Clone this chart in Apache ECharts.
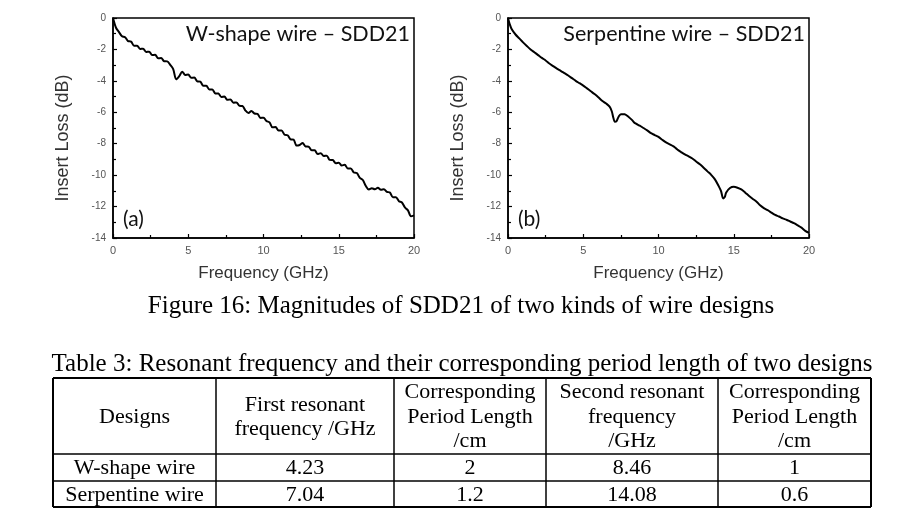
<!DOCTYPE html>
<html>
<head>
<meta charset="utf-8">
<script src="https://cdn.jsdelivr.net/npm/echarts@6/dist/echarts.min.js"></script>
<style>
html,body{margin:0;padding:0;background:#fff;}
#main{width:917px;height:520px;}
</style>
</head>
<body>
<div id="main"></div>
<script>
// ---------- DATA ----------
var freqA = [0,0.2,0.4,0.6,0.8,1.0,1.2,1.4,1.6,1.8,2.0,2.2,2.4,2.6,2.8,3.0,3.2,3.4,3.6,3.8,
  4.0,4.2,4.4,4.6,4.8,5.0,5.2,5.4,5.6,5.8,6.0,6.2,6.4,6.6,6.8,7.0,7.2,7.4,7.6,7.8,
  8.0,8.2,8.4,8.6,8.8,9.0,9.2,9.4,9.6,9.8,10.0,10.2,10.4,10.6,10.8,11.0,11.2,11.4,11.6,11.8,
  12.0,12.2,12.4,12.6,12.8,13.0,13.2,13.4,13.6,13.8,14.0,14.2,14.4,14.6,14.8,15.0,15.2,15.4,15.6,15.8,
  16.0,16.2,16.4,16.6,16.8,17.0,17.2,17.4,17.6,17.8,18.0,18.2,18.4,18.6,18.8,19.0,19.2,19.4,19.6,19.8,20.0];
var lossA = [0,-0.62,-0.90,-1.16,-1.22,-1.47,-1.50,-1.76,-1.76,-1.97,-1.95,-2.16,-2.14,-2.36,-2.34,-2.56,-2.55,-2.75,-2.76,-2.98,
  -3.25,-3.90,-3.70,-3.42,-3.62,-3.60,-3.81,-3.79,-4.03,-4.05,-4.31,-4.31,-4.55,-4.55,-4.80,-4.81,-5.02,-4.99,-5.21,-5.18,
  -5.39,-5.37,-5.59,-5.60,-5.89,-6.05,-5.92,-6.08,-6.10,-6.36,-6.34,-6.56,-6.64,-6.96,-6.94,-7.16,-7.16,-7.43,-7.46,-7.72,
  -7.74,-8.12,-8.08,-7.96,-8.18,-8.19,-8.42,-8.42,-8.66,-8.60,-8.78,-8.76,-9.03,-9.04,-9.24,-9.21,-9.39,-9.34,-9.58,-9.58,
  -9.83,-9.86,-10.18,-10.31,-10.69,-10.92,-10.83,-10.90,-10.80,-10.93,-10.89,-11.06,-11.11,-11.41,-11.41,-11.66,-11.74,-12.06,-12.24,-12.62,-12.56];

var freqB = [0,0.1,0.25,0.5,0.75,1,1.25,1.5,1.75,2,2.25,2.5,2.75,3,3.25,3.5,3.75,4,4.25,4.5,4.75,5,
  5.25,5.5,5.75,6,6.25,6.5,6.75,6.9,7,7.1,7.2,7.35,7.5,7.75,8,8.25,8.4,8.5,8.75,9,9.25,9.5,9.75,10,
  10.25,10.5,10.75,11,11.25,11.5,11.75,12,12.25,12.5,12.75,13,13.25,13.5,13.75,14,14.15,14.3,14.4,14.5,14.75,15,
  15.25,15.5,15.75,16,16.25,16.5,16.75,17,17.25,17.5,17.75,18,18.25,18.5,18.75,19,19.25,19.5,19.75,20];
var lossB = [0,-0.35,-0.72,-1.05,-1.30,-1.55,-1.78,-2.00,-2.18,-2.36,-2.54,-2.70,-2.90,-3.06,-3.22,-3.36,-3.51,-3.66,-3.83,-4.00,-4.15,-4.30,
  -4.48,-4.66,-4.84,-5.04,-5.26,-5.43,-5.64,-5.95,-6.35,-6.60,-6.58,-6.28,-6.12,-6.13,-6.28,-6.50,-6.66,-6.72,-6.85,-7.00,-7.15,-7.33,-7.45,-7.57,
  -7.75,-7.92,-8.04,-8.17,-8.37,-8.53,-8.68,-8.80,-8.94,-9.13,-9.31,-9.53,-9.76,-9.98,-10.27,-10.70,-11.00,-11.48,-11.40,-11.10,-10.82,-10.74,
  -10.80,-10.91,-11.10,-11.31,-11.50,-11.67,-11.92,-12.10,-12.23,-12.38,-12.53,-12.63,-12.75,-12.84,-12.95,-13.06,-13.20,-13.34,-13.55,-13.68];

var panelTitles = ["W-shape wire \u2013 SDD21", "Serpentine wire \u2013 SDD21"];
var panelTags = ["(a)", "(b)"];
var xAxisTitle = "Frequency (GHz)";
var yAxisTitle = "Insert Loss (dB)";
var figureCaption = "Figure 16: Magnitudes of SDD21 of two kinds of wire designs";
var tableCaption = "Table 3: Resonant frequency and their corresponding period length of two designs";
var tableHeader = ["Designs", "First resonant\nfrequency /GHz", "Corresponding\nPeriod Length\n/cm", "Second resonant\nfrequency\n/GHz", "Corresponding\nPeriod Length\n/cm"];
var tableRows = [
  ["W-shape wire", "4.23", "2", "8.46", "1"],
  ["Serpentine wire", "7.04", "1.2", "14.08", "0.6"]
];

// ---------- LAYOUT ----------
var gridLefts = [113, 508];
var gridTop = 18, gridW = 301, gridH = 220;
var colX = [53, 216, 394, 546, 718, 871];
var rowY = [378, 454, 481, 507];

function zip(xs, ys) {
  var out = [];
  for (var i = 0; i < Math.min(xs.length, ys.length); i++) out.push([xs[i], ys[i]]);
  return out;
}

var grids = [], xAxes = [], yAxes = [], series = [];
var seriesData = [zip(freqA, lossA), zip(freqB, lossB)];
for (var k = 0; k < 2; k++) {
  grids.push({left: gridLefts[k], top: gridTop, width: gridW, height: gridH,
    show: true, borderColor: '#000', borderWidth: 1.5, backgroundColor: '#fff'});
  xAxes.push({
    gridIndex: k, type: 'value', min: 0, max: 20, interval: 5,
    name: xAxisTitle, nameLocation: 'middle', nameGap: 27,
    nameTextStyle: {fontFamily: 'Liberation Sans', fontSize: 17, color: '#333'},
    axisLine: {show: true, onZero: false, lineStyle: {color: '#000', width: 1.5}},
    axisTick: {show: true, inside: true, length: 4, lineStyle: {color: '#000', width: 1.2}},
    minorTick: {show: true, splitNumber: 2, length: 3, lineStyle: {color: '#000', width: 1.2}},
    axisLabel: {fontFamily: 'Liberation Sans', fontSize: 11, color: '#555', margin: 7},
    splitLine: {show: false}, minorSplitLine: {show: false}
  });
  yAxes.push({
    gridIndex: k, type: 'value', min: -14, max: 0, interval: 2,
    name: yAxisTitle, nameLocation: 'middle', nameGap: 41, nameRotate: 90,
    nameTextStyle: {fontFamily: 'Liberation Sans', fontSize: 18, color: '#333', padding: [0, 20, 0, 0]},
    axisLine: {show: true, onZero: false, lineStyle: {color: '#000', width: 1.5}},
    axisTick: {show: true, inside: true, length: 4, lineStyle: {color: '#000', width: 1.2}},
    minorTick: {show: true, splitNumber: 2, length: 3, lineStyle: {color: '#000', width: 1.2}},
    axisLabel: {fontFamily: 'Liberation Sans', fontSize: 10, color: '#555', margin: 7},
    splitLine: {show: false}, minorSplitLine: {show: false}
  });
  series.push({
    type: 'line', xAxisIndex: k, yAxisIndex: k, data: seriesData[k],
    showSymbol: false, smooth: 0.3, lineStyle: {color: '#000', width: 2},
    animation: false, z: 5
  });
}

var graphics = [];
// panel titles & tags
for (var k = 0; k < 2; k++) {
  var gx = gridLefts[k];
  graphics.push({type: 'text', right: 917 - (gx + gridW - 4), top: 23,
    style: {text: panelTitles[k], font: '21.5px Lato', fill: '#111'}});
  graphics.push({type: 'text', left: gx + 10, top: 209,
    style: {text: panelTags[k], font: '21px Lato', fill: '#111'}});
}
// captions
graphics.push({type: 'text', x: 461, y: 306,
  style: {text: figureCaption, font: '25px "Liberation Serif"', fill: '#000', align: 'center', verticalAlign: 'middle'}});
graphics.push({type: 'text', x: 462, y: 364,
  style: {text: tableCaption, font: '25px "Liberation Serif"', fill: '#000', align: 'center', verticalAlign: 'middle'}});
// table lines
for (var i = 0; i < colX.length; i++) {
  var outer = (i === 0 || i === colX.length - 1);
  graphics.push({type: 'line', shape: {x1: colX[i], y1: rowY[0], x2: colX[i], y2: rowY[rowY.length - 1]},
    style: {stroke: '#000', lineWidth: outer ? 2 : 1.5}});
}
for (var j = 0; j < rowY.length; j++) {
  var outerR = (j === 0 || j === rowY.length - 1);
  graphics.push({type: 'line', shape: {x1: colX[0], y1: rowY[j], x2: colX[colX.length - 1], y2: rowY[j]},
    style: {stroke: '#000', lineWidth: outerR ? 2 : 1.5}});
}
// table text
var allRows = [tableHeader].concat(tableRows);
for (var r = 0; r < allRows.length; r++) {
  for (var c = 0; c < allRows[r].length; c++) {
    graphics.push({type: 'text', x: (colX[c] + colX[c + 1]) / 2, y: (rowY[r] + rowY[r + 1]) / 2 + 1,
      style: {text: allRows[r][c], font: '22px "Liberation Serif"', fill: '#000', align: 'center',
        verticalAlign: 'middle', lineHeight: 24.5}});
  }
}

var chart = echarts.init(document.getElementById('main'), null, {renderer: 'canvas'});
chart.setOption({
  animation: false,
  backgroundColor: '#fff',
  grid: grids, xAxis: xAxes, yAxis: yAxes, series: series,
  graphic: graphics
});
</script>
</body>
</html>
